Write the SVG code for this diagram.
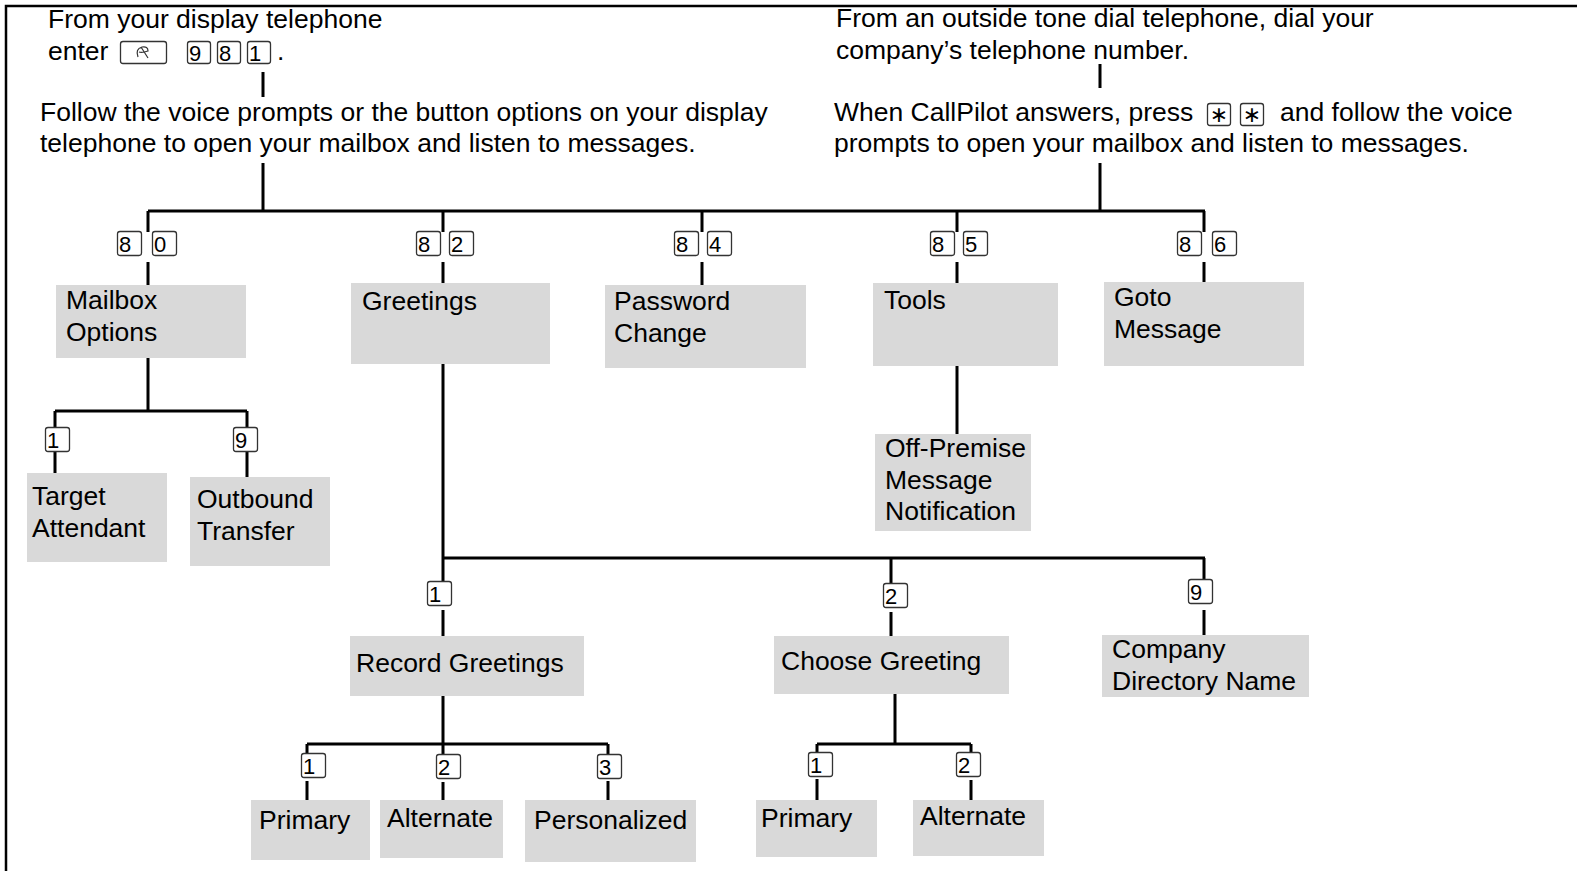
<svg xmlns="http://www.w3.org/2000/svg" xmlns:xlink="http://www.w3.org/1999/xlink" width="1577" height="871" viewBox="0 0 1577 871">
<style>
text{font-family:"Liberation Sans",Arial,sans-serif;fill:#000}
.t{font-size:26.5px}
.n{font-size:26.5px}
.d{font-size:22px}
.st{font-family:"DejaVu Sans",sans-serif;font-size:22px}
.node{fill:#d9d9d9}
.ln{stroke:#000;stroke-width:3;fill:none}
.kb{fill:#fff;stroke:#333;stroke-width:1.3}
</style>
<defs>
<g id="k"><rect class="kb" x="0.5" y="0.5" width="24" height="24" rx="2.5"/></g>
<g id="ks"><rect class="kb" x="0.5" y="0.5" width="23" height="22" rx="2.5"/></g>
</defs>
<rect width="1577" height="871" fill="#fff"/>
<path d="M6,871 V6 H1577" stroke="#000" stroke-width="2.5" fill="none"/>

<g id="header-left">
<text class="t" x="48" y="28">From your display telephone</text>
<text class="t" x="48" y="60">enter</text>
<rect class="kb" x="120.5" y="41.5" width="46" height="22" rx="2.5"/>
<path d="M138,57 q-3,-8 4,-10 q6,-1 6,4 q-6,2 -9,1 M141,47 l7,11" stroke="#333" stroke-width="1.2" fill="none"/>
<use xlink:href="#ks" x="187" y="41"/><text class="d" x="189" y="61">9</text>
<use xlink:href="#ks" x="217" y="41"/><text class="d" x="219" y="61">8</text>
<use xlink:href="#ks" x="247" y="41"/><text class="d" x="249" y="61">1</text>
<text class="t" x="277" y="60">.</text>
<text class="t" x="40" y="121">Follow the voice prompts or the button options on your display</text>
<text class="t" x="40" y="152">telephone to open your mailbox and listen to messages.</text>
</g>

<g id="header-right">
<text class="t" x="836" y="27">From an outside tone dial telephone, dial your</text>
<text class="t" x="836" y="59">company’s telephone number.</text>
<text class="t" x="834" y="121">When CallPilot answers, press</text>
<use xlink:href="#ks" x="1207" y="103"/><text class="st" x="1219" y="122" text-anchor="middle">∗</text>
<use xlink:href="#ks" x="1240" y="103"/><text class="st" x="1252" y="122" text-anchor="middle">∗</text>
<text class="t" x="1280" y="121">and follow the voice</text>
<text class="t" x="834" y="152">prompts to open your mailbox and listen to messages.</text>
</g>

<g id="connectors">
<path class="ln" d="M263,72 V97 M263,163 V211 M1100,64 V88 M1100,163 V211 M148,211 H1205"/>
<path class="ln" d="M148,211 V232 M148,262 V285 M443,211 V232 M443,262 V283 M702,211 V232 M702,262 V285 M957,211 V232 M957,262 V283 M1204,211 V232 M1204,262 V282"/>
<path class="ln" d="M148,358 V411 M55,411 H247 M55,411 V427 M55,452 V473 M247,411 V427 M247,452 V477"/>
<path class="ln" d="M957,366 V434"/>
<path class="ln" d="M443,364 V558 H1205 M443,558 V581 M443,610 V636 M891,558 V583 M891,612 V636 M1204,558 V579 M1204,610 V635"/>
<path class="ln" d="M443,696 V744 M307,744 H608 M307,744 V753 M307,781 V800 M443,744 V754 M443,782 V800 M608,744 V754 M608,781 V800"/>
<path class="ln" d="M895,694 V744 M817,744 H971 M817,744 V752 M817,779 V800 M971,744 V752 M971,780 V800"/>
</g>

<g id="keys">
<use xlink:href="#k" x="117" y="231"/><text class="d" x="119" y="252">8</text>
<use xlink:href="#k" x="152" y="231"/><text class="d" x="154" y="252">0</text>
<use xlink:href="#k" x="416" y="231"/><text class="d" x="418" y="252">8</text>
<use xlink:href="#k" x="449" y="231"/><text class="d" x="451" y="252">2</text>
<use xlink:href="#k" x="674" y="231"/><text class="d" x="676" y="252">8</text>
<use xlink:href="#k" x="707" y="231"/><text class="d" x="709" y="252">4</text>
<use xlink:href="#k" x="930" y="231"/><text class="d" x="932" y="252">8</text>
<use xlink:href="#k" x="963" y="231"/><text class="d" x="965" y="252">5</text>
<use xlink:href="#k" x="1177" y="231"/><text class="d" x="1179" y="252">8</text>
<use xlink:href="#k" x="1212" y="231"/><text class="d" x="1214" y="252">6</text>
<use xlink:href="#k" x="45" y="427"/><text class="d" x="47" y="448">1</text>
<use xlink:href="#k" x="233" y="427"/><text class="d" x="235" y="448">9</text>
<use xlink:href="#k" x="427" y="581"/><text class="d" x="429" y="602">1</text>
<use xlink:href="#k" x="883" y="583"/><text class="d" x="885" y="604">2</text>
<use xlink:href="#k" x="1188" y="579"/><text class="d" x="1190" y="600">9</text>
<use xlink:href="#k" x="301" y="753"/><text class="d" x="303" y="774">1</text>
<use xlink:href="#k" x="436" y="754"/><text class="d" x="438" y="775">2</text>
<use xlink:href="#k" x="597" y="754"/><text class="d" x="599" y="775">3</text>
<use xlink:href="#k" x="808" y="752"/><text class="d" x="810" y="773">1</text>
<use xlink:href="#k" x="956" y="752"/><text class="d" x="958" y="773">2</text>
</g>

<g id="mailbox-options"><rect class="node" x="56" y="285" width="190" height="73"/><text class="n" x="66" y="309">Mailbox</text><text class="n" x="66" y="341">Options</text></g>
<g id="greetings"><rect class="node" x="351" y="283" width="199" height="81"/><text class="n" x="362" y="310">Greetings</text></g>
<g id="password-change"><rect class="node" x="605" y="285" width="201" height="83"/><text class="n" x="614" y="310">Password</text><text class="n" x="614" y="342">Change</text></g>
<g id="tools"><rect class="node" x="873" y="283" width="185" height="83"/><text class="n" x="884" y="309">Tools</text></g>
<g id="goto-message"><rect class="node" x="1104" y="282" width="200" height="84"/><text class="n" x="1114" y="306">Goto</text><text class="n" x="1114" y="338">Message</text></g>
<g id="target-attendant"><rect class="node" x="27" y="473" width="140" height="89"/><text class="n" x="32" y="505">Target</text><text class="n" x="32" y="537">Attendant</text></g>
<g id="outbound-transfer"><rect class="node" x="190" y="477" width="140" height="89"/><text class="n" x="197" y="508">Outbound</text><text class="n" x="197" y="540">Transfer</text></g>
<g id="off-premise"><rect class="node" x="875" y="434" width="156" height="97"/><text class="n" x="885" y="457">Off-Premise</text><text class="n" x="885" y="489">Message</text><text class="n" x="885" y="520">Notification</text></g>
<g id="record-greetings"><rect class="node" x="350" y="636" width="234" height="60"/><text class="n" x="356" y="672">Record Greetings</text></g>
<g id="choose-greeting"><rect class="node" x="774" y="636" width="235" height="58"/><text class="n" x="781" y="670">Choose Greeting</text></g>
<g id="company-directory"><rect class="node" x="1102" y="635" width="207" height="62"/><text class="n" x="1112" y="658">Company</text><text class="n" x="1112" y="690">Directory Name</text></g>
<g id="primary-1"><rect class="node" x="251" y="800" width="119" height="60"/><text class="n" x="259" y="829">Primary</text></g>
<g id="alternate-1"><rect class="node" x="380" y="800" width="123" height="58"/><text class="n" x="387" y="827">Alternate</text></g>
<g id="personalized"><rect class="node" x="525" y="800" width="171" height="62"/><text class="n" x="534" y="829">Personalized</text></g>
<g id="primary-2"><rect class="node" x="756" y="800" width="121" height="57"/><text class="n" x="761" y="827">Primary</text></g>
<g id="alternate-2"><rect class="node" x="913" y="800" width="131" height="56"/><text class="n" x="920" y="825">Alternate</text></g>
</svg>
